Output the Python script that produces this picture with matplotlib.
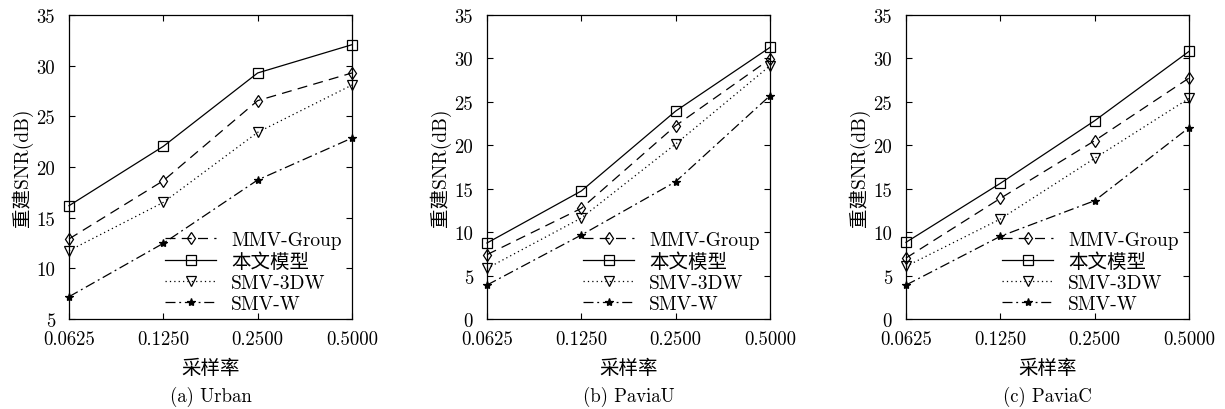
import matplotlib
matplotlib.use("Agg")
import matplotlib.pyplot as plt

plt.rcParams['font.family'] = ['cmr10', 'Noto Sans CJK SC', 'DejaVu Serif']
plt.rcParams['axes.unicode_minus'] = False
plt.rcParams['axes.formatter.use_mathtext'] = True

x_labels = ['0.0625', '0.1250', '0.2500', '0.5000']
series_names = ['MMV-Group', '本文模型', 'SMV-3DW', 'SMV-W']

urban_mmv = [12.9, 18.65, 26.55, 29.28]
urban_ours = [16.18, 22.04, 29.28, 32.07]
urban_3dw = [11.74, 16.51, 23.42, 28.09]
urban_w = [7.2, 12.47, 18.72, 22.86]

paviau_mmv = [7.41, 12.74, 22.26, 29.93]
paviau_ours = [8.75, 14.74, 23.94, 31.27]
paviau_3dw = [5.83, 11.63, 20.15, 29.16]
paviau_w = [3.91, 9.67, 15.81, 25.71]

paviac_mmv = [7.02, 13.89, 20.53, 27.74]
paviac_ours = [8.83, 15.62, 22.83, 30.81]
paviac_3dw = [6.06, 11.51, 18.5, 25.4]
paviac_w = [3.91, 9.52, 13.62, 22.03]

panels = [
    ('(a) Urban', [urban_mmv, urban_ours, urban_3dw, urban_w], (5, 35), [5, 10, 15, 20, 25, 30, 35]),
    ('(b) PaviaU', [paviau_mmv, paviau_ours, paviau_3dw, paviau_w], (0, 35), [0, 5, 10, 15, 20, 25, 30, 35]),
    ('(c) PaviaC', [paviac_mmv, paviac_ours, paviac_3dw, paviac_w], (0, 35), [0, 5, 10, 15, 20, 25, 30, 35]),
]

styles = [
    dict(linestyle=(0, (8, 5)), marker='d', markersize=6, markerfacecolor='none'),
    dict(linestyle='-', marker='s', markersize=6.5, markerfacecolor='none'),
    dict(linestyle=(0, (1, 2.5)), marker='v', markersize=6.5, markerfacecolor='none'),
    dict(linestyle=(0, (8, 3, 1.5, 3)), marker='*', markersize=6, markerfacecolor='black'),
]

fig = plt.figure(figsize=(12.25, 4.1), dpi=100)
lefts = [69, 487, 906]
W, H = 1225, 410
xs = list(range(len(x_labels)))
for (caption, data, ylim, yticks), lp in zip(panels, lefts):
    ax = fig.add_axes([lp / W, (H - 320) / H, 283 / W, 304 / H])
    for vals, name, st in zip(data, series_names, styles):
        ax.plot(xs, vals, color='black', linewidth=0.9, markeredgewidth=0.9,
                label=name, clip_on=False, **st)
    ax.set_xlim(0, 3)
    ax.set_ylim(*ylim)
    ax.set_xticks(xs)
    ax.set_xticklabels(x_labels)
    ax.set_yticks(yticks)
    ax.set_yticklabels([str(t) for t in yticks])
    ax.tick_params(direction='in', top=True, right=True, labelsize=13.5, length=4)
    ax.tick_params(axis='y', pad=10)
    ax.tick_params(axis='x', pad=8)
    for s in ax.spines.values():
        s.set_linewidth(0.9)
    ax.set_xlabel('采样率', fontsize=14, labelpad=8)
    ax.set_ylabel('重建SNR(dB)', fontsize=14, labelpad=2)
    ax.legend(loc='lower right', frameon=False, fontsize=14, handlelength=2.6,
              labelspacing=0.17, borderaxespad=0.05, handletextpad=0.8,
              bbox_to_anchor=(0.995, -0.01))
    fig.text((lp + 283 / 2) / W, 1 - 397 / H, caption, ha='center', va='center', fontsize=13.5)

fig.savefig('out.png', dpi=100)
